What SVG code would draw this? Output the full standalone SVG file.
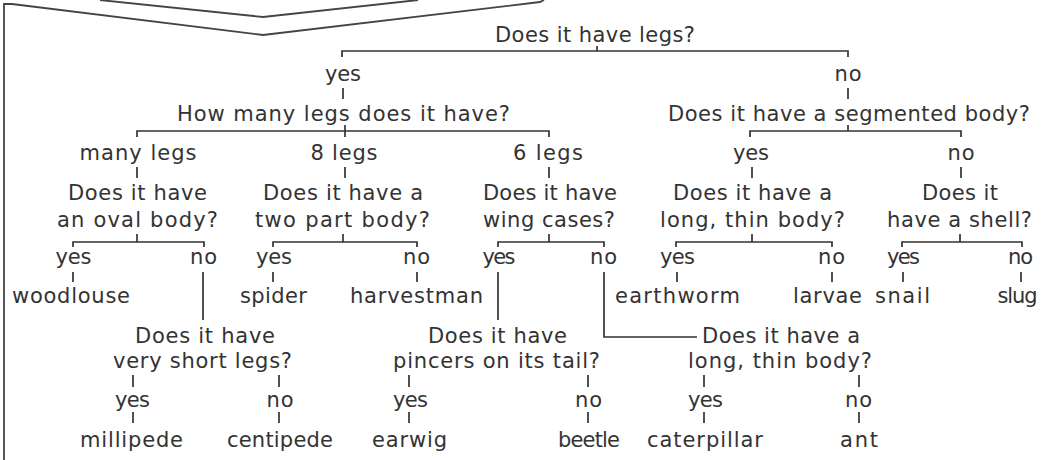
<svg xmlns="http://www.w3.org/2000/svg" width="1050" height="460" viewBox="0 0 1050 460">
<style>
.t{font-family:"DejaVu Sans","Liberation Sans",sans-serif;font-size:21px;fill:#333;text-anchor:middle}
.c{fill:none;stroke:#333;stroke-width:1.7}
.f{fill:none;stroke:#444;stroke-width:1.8}
</style>
<rect width="1050" height="460" fill="#fff"/>
<g id="frame">
<path class="f" d="M4,460 V4 H12 L263,35 L540,2 L544,0"/>
<path class="f" d="M100,0 L263,17 L418,0"/>
</g>
<g id="connectors">
<path class="c" d="M342,57 V51 H848 V57 M597,46 V51"/>
<path class="c" d="M343,88 V99 M848,88 V99"/>
<path class="c" d="M137,137 V131 H549 V137 M345,125 V137"/>
<path class="c" d="M750,137 V131 H961 V137 M848,125 V131"/>
<path class="c" d="M137,167 V178 M345,167 V178 M549,167 V178 M752,167 V178 M961,167 V178"/>
<path class="c" d="M73,247 V242 H204 V247 M137,234 V242"/>
<path class="c" d="M273,247 V242 H417 V247 M343,234 V242"/>
<path class="c" d="M498,247 V242 H604 V247 M549,234 V242"/>
<path class="c" d="M676,247 V242 H832 V247 M752,234 V242"/>
<path class="c" d="M902,247 V242 H1022 V247 M960,234 V242"/>
<path class="c" d="M73,272 V282 M273,272 V282 M417,272 V282 M677,272 V282 M832,272 V282 M903,272 V282 M1021,272 V282"/>
<path class="c" d="M203,272 V320 M498,272 V320 M604,272 V337 H697"/>
<path class="c" d="M133,375 V387 M279,375 V387 M409,375 V387 M588,375 V387 M704,375 V387 M859,375 V387"/>
<path class="c" d="M133,412 V423 M279,412 V423 M409,412 V423 M588,412 V423 M704,412 V423 M859,412 V423"/>
</g>
<g id="q-legs"><text class="t" x="595" y="42" textLength="200" lengthAdjust="spacing">Does it have legs?</text></g>
<g id="a-legs-yes"><text class="t" x="343" y="81" textLength="36" lengthAdjust="spacing">yes</text></g>
<g id="a-legs-no"><text class="t" x="848" y="81" textLength="27" lengthAdjust="spacing">no</text></g>
<g id="q-howmany"><text class="t" x="343.5" y="121" textLength="333" lengthAdjust="spacing">How many legs does it have?</text></g>
<g id="q-segmented"><text class="t" x="849" y="121" textLength="362" lengthAdjust="spacing">Does it have a segmented body?</text></g>
<g id="a-many"><text class="t" x="138" y="160" textLength="117" lengthAdjust="spacing">many legs</text></g>
<g id="a-8"><text class="t" x="344" y="160" textLength="67" lengthAdjust="spacing">8 legs</text></g>
<g id="a-6"><text class="t" x="548" y="160" textLength="70" lengthAdjust="spacing">6 legs</text></g>
<g id="a-seg-yes"><text class="t" x="751" y="160" textLength="36" lengthAdjust="spacing">yes</text></g>
<g id="a-seg-no"><text class="t" x="961" y="160" textLength="27" lengthAdjust="spacing">no</text></g>
<g id="q-oval">
<text class="t" x="137.5" y="200" textLength="139" lengthAdjust="spacing">Does it have</text>
<text class="t" x="137.5" y="227" textLength="161" lengthAdjust="spacing">an oval body?</text>
</g>
<g id="q-twopart">
<text class="t" x="343" y="200" textLength="160" lengthAdjust="spacing">Does it have a</text>
<text class="t" x="342.5" y="227" textLength="175" lengthAdjust="spacing">two part body?</text>
</g>
<g id="q-wing">
<text class="t" x="550" y="200" textLength="134" lengthAdjust="spacing">Does it have</text>
<text class="t" x="549" y="227" textLength="132" lengthAdjust="spacing">wing cases?</text>
</g>
<g id="q-longthin1">
<text class="t" x="752.5" y="200" textLength="159" lengthAdjust="spacing">Does it have a</text>
<text class="t" x="752.5" y="227" textLength="185" lengthAdjust="spacing">long, thin body?</text>
</g>
<g id="q-shell">
<text class="t" x="960" y="200" textLength="76" lengthAdjust="spacing">Does it</text>
<text class="t" x="959.5" y="227" textLength="145" lengthAdjust="spacing">have a shell?</text>
</g>
<g id="a-oval-yes"><text class="t" x="73.5" y="264" textLength="36" lengthAdjust="spacing">yes</text></g>
<g id="a-oval-no"><text class="t" x="203.5" y="264" textLength="27" lengthAdjust="spacing">no</text></g>
<g id="a-two-yes"><text class="t" x="274" y="264" textLength="36" lengthAdjust="spacing">yes</text></g>
<g id="a-two-no"><text class="t" x="416.5" y="264" textLength="27" lengthAdjust="spacing">no</text></g>
<g id="a-wing-yes"><text class="t" x="499" y="264" textLength="33" lengthAdjust="spacing">yes</text></g>
<g id="a-wing-no"><text class="t" x="603.5" y="264" textLength="27" lengthAdjust="spacing">no</text></g>
<g id="a-long1-yes"><text class="t" x="677.5" y="264" textLength="35" lengthAdjust="spacing">yes</text></g>
<g id="a-long1-no"><text class="t" x="831.5" y="264" textLength="27" lengthAdjust="spacing">no</text></g>
<g id="a-shell-yes"><text class="t" x="903.5" y="264" textLength="33" lengthAdjust="spacing">yes</text></g>
<g id="a-shell-no"><text class="t" x="1020.5" y="264" textLength="25" lengthAdjust="spacing">no</text></g>
<g id="woodlouse"><text class="t" x="71" y="303" textLength="118" lengthAdjust="spacing">woodlouse</text></g>
<g id="spider"><text class="t" x="273.5" y="303" textLength="67" lengthAdjust="spacing">spider</text></g>
<g id="harvestman"><text class="t" x="416.5" y="303" textLength="133" lengthAdjust="spacing">harvestman</text></g>
<g id="earthworm"><text class="t" x="677.5" y="303" textLength="125" lengthAdjust="spacing">earthworm</text></g>
<g id="larvae"><text class="t" x="827.5" y="303" textLength="69" lengthAdjust="spacing">larvae</text></g>
<g id="snail"><text class="t" x="902.5" y="303" textLength="55" lengthAdjust="spacing">snail</text></g>
<g id="slug"><text class="t" x="1017.5" y="303" textLength="40" lengthAdjust="spacing">slug</text></g>
<g id="q-shortlegs">
<text class="t" x="205" y="343" textLength="140" lengthAdjust="spacing">Does it have</text>
<text class="t" x="202.5" y="368" textLength="179" lengthAdjust="spacing">very short legs?</text>
</g>
<g id="q-pincers">
<text class="t" x="497.5" y="343" textLength="139" lengthAdjust="spacing">Does it have</text>
<text class="t" x="496.5" y="368" textLength="207" lengthAdjust="spacing">pincers on its tail?</text>
</g>
<g id="q-longthin2">
<text class="t" x="781" y="343" textLength="158" lengthAdjust="spacing">Does it have a</text>
<text class="t" x="780" y="368" textLength="184" lengthAdjust="spacing">long, thin body?</text>
</g>
<g id="a-short-yes"><text class="t" x="132.5" y="407" textLength="35" lengthAdjust="spacing">yes</text></g>
<g id="a-short-no"><text class="t" x="280" y="407" textLength="27" lengthAdjust="spacing">no</text></g>
<g id="a-pinc-yes"><text class="t" x="410.5" y="407" textLength="35" lengthAdjust="spacing">yes</text></g>
<g id="a-pinc-no"><text class="t" x="588.5" y="407" textLength="27" lengthAdjust="spacing">no</text></g>
<g id="a-long2-yes"><text class="t" x="705.5" y="407" textLength="35" lengthAdjust="spacing">yes</text></g>
<g id="a-long2-no"><text class="t" x="858.5" y="407" textLength="27" lengthAdjust="spacing">no</text></g>
<g id="millipede"><text class="t" x="131.5" y="447" textLength="103" lengthAdjust="spacing">millipede</text></g>
<g id="centipede"><text class="t" x="280" y="447" textLength="106" lengthAdjust="spacing">centipede</text></g>
<g id="earwig"><text class="t" x="409.5" y="447" textLength="75" lengthAdjust="spacing">earwig</text></g>
<g id="beetle"><text class="t" x="589" y="447" textLength="62" lengthAdjust="spacing">beetle</text></g>
<g id="caterpillar"><text class="t" x="705" y="447" textLength="116" lengthAdjust="spacing">caterpillar</text></g>
<g id="ant"><text class="t" x="859" y="447" textLength="38" lengthAdjust="spacing">ant</text></g>
</svg>
